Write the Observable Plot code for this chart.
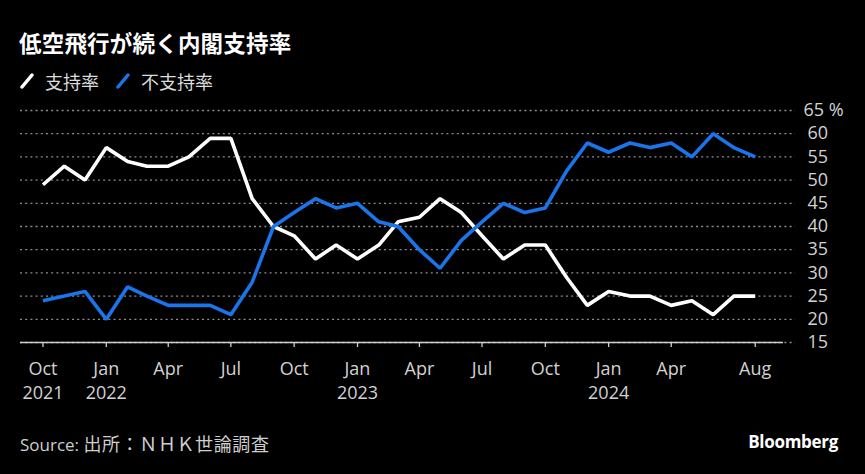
<!DOCTYPE html>
<html>
<head>
<meta charset="utf-8">
<script src="https://cdn.jsdelivr.net/npm/d3@7"></script>
<script src="https://cdn.jsdelivr.net/npm/@observablehq/plot@0.6"></script>
<style>
  html, body { margin: 0; padding: 0; background: #000; }
  body { width: 865px; height: 474px; position: relative; overflow: hidden;
         font-family: "Open Sans", "Noto Sans", "Noto Sans CJK JP", sans-serif; }
  #title { position: absolute; left: 19px; top: 27px; color: #fff; font-weight: 700;
           font-size: 22.5px; line-height: 30px; font-family: "Noto Sans CJK JP", sans-serif; letter-spacing: 0.2px; }
  #legend { position: absolute; left: 20px; top: 69px; color: #dcdcdc; font-size: 18px;
            line-height: 24px; font-family: "Noto Sans CJK JP", sans-serif; display: flex; align-items: center; }
  #legend .item { display: flex; align-items: center; margin-right: 17px; }
  #legend svg { margin-right: 11px; }
  #chart { position: absolute; left: 0; top: 100px; }
  #source { position: absolute; left: 20px; top: 431px; color: #cfcfcf; font-size: 17px; line-height: 24px;
            font-family: "Open Sans", "Noto Sans CJK JP", sans-serif; white-space: pre; }
  #source .ja { font-family: "Noto Sans CJK JP", sans-serif; font-size: 18px; letter-spacing: 0.6px; }
  #brand { position: absolute; right: 27px; top: 430px; color: #fff; font-size: 17px; font-weight: 700;
           line-height: 24px; font-family: "Open Sans", sans-serif; letter-spacing: -0.3px; }
</style>
</head>
<body>
<div id="title">低空飛行が続く内閣支持率</div>
<div id="legend"></div>
<div id="chart"></div>
<div id="source">Source: <span class="ja">出所：ＮＨＫ世論調査</span></div>
<div id="brand">Bloomberg</div>
<script>
// ---- data ----
const months = ["2021-10","2021-11","2021-12","2022-01","2022-02","2022-03","2022-04","2022-05","2022-06","2022-07","2022-08","2022-09",
  "2022-10","2022-11","2022-12","2023-01","2023-02","2023-03","2023-04","2023-05","2023-06","2023-07","2023-08","2023-09",
  "2023-10","2023-11","2023-12","2024-01","2024-02","2024-03","2024-04","2024-05","2024-06","2024-07","2024-08"];
const support    = [49,53,50,57,54,53,53,55,59,59,46,40, 38,33,36,33,36,41,42,46,43,38,33,36, 36,29,23,26,25,25,23,24,21,25,25];
const disapprove = [24,25,26,20,27,25,23,23,23,21,28,40, 43,46,44,45,41,40,35,31,37,41,45,43, 44,52,58,56,58,57,58,55,60,57,55];
const seriesNames = ["支持率", "不支持率"];
const seriesColors = ["#ffffff", "#1a74ea"];
const tickMonths = ["2021-10","2022-01","2022-04","2022-07","2022-10","2023-01","2023-04","2023-07","2023-10","2024-01","2024-04","2024-08"];
const tickLabels = ["Oct\n2021","Jan\n2022","Apr","Jul","Oct","Jan\n2023","Apr","Jul","Oct","Jan\n2024","Apr","Aug"];
const yTicks = [15,20,25,30,35,40,45,50,55,60,65];
const yTopTick = 65;

const parse = s => new Date(s + "-01T00:00:00Z");
const rows = [];
months.forEach((m, i) => {
  rows.push({date: parse(m), value: support[i], series: seriesNames[0]});
  rows.push({date: parse(m), value: disapprove[i], series: seriesNames[1]});
});

// legend
const legend = document.getElementById("legend");
seriesNames.forEach((name, i) => {
  const item = document.createElement("div");
  item.className = "item";
  item.innerHTML = `<svg width="14" height="16"><line x1="2" y1="14" x2="12" y2="2" stroke="${seriesColors[i]}" stroke-width="3.5" stroke-linecap="round"/></svg><span>${name}</span>`;
  legend.appendChild(item);
});

const fontStack = '"Open Sans", "Noto Sans", sans-serif';
const chart = Plot.plot({
  width: 865,
  height: 310,
  marginTop: 10,
  marginLeft: 20,
  marginRight: 70,
  marginBottom: 68,
  style: {background: "#000", color: "#d2d2d2", fontFamily: fontStack, fontSize: "18px", overflow: "visible"},
  x: {type: "utc", domain: [parse(months[0]), parse(months[months.length - 1])], range: [42.5, 754.7]},
  y: {domain: [15, 65]},
  color: {domain: seriesNames, range: seriesColors},
  marks: [
    Plot.ruleY(yTicks, {stroke: "#8c8c8c", strokeWidth: 1.3, strokeDasharray: "2,3.2"}),
    Plot.ruleY([15], {stroke: "#cfcfcf", strokeWidth: 1.6, insetRight: 12}),
    Plot.axisX({ticks: tickMonths.map(parse), tickFormat: (d, i) => tickLabels[i], tickSize: 5,
                tickPadding: 10, lineHeight: 1.35, stroke: "#cfcfcf", strokeWidth: 1.3, label: null}),
    Plot.axisY({anchor: "right", ticks: yTicks.filter(d => d !== yTopTick), tickSize: 0, tickPadding: 12,
                tickFormat: d => String(d), label: null}),
    Plot.axisY({anchor: "right", ticks: [yTopTick], tickSize: 0, tickPadding: 8,
                tickFormat: d => d + " %", label: null}),
    Plot.line(rows, {x: "date", y: "value", z: "series", stroke: "series", strokeWidth: 3.6,
                     strokeLinejoin: "miter", strokeLinecap: "butt"})
  ]
});
document.getElementById("chart").appendChild(chart);
</script>
</body>
</html>
